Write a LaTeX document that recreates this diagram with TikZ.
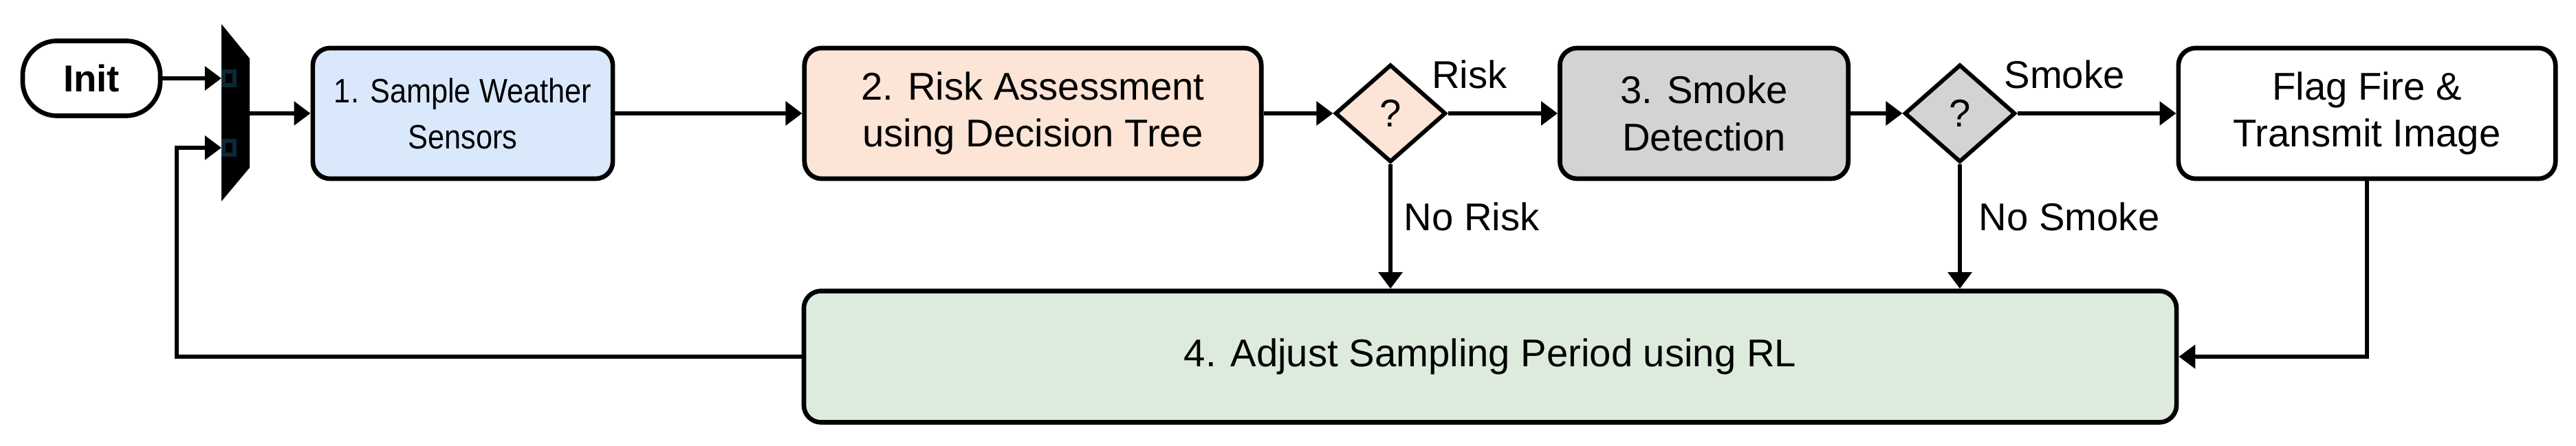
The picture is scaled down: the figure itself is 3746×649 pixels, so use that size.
\documentclass[tikz,border=0pt]{standalone}
\usepackage{fontspec}
\setmainfont{Liberation Sans}
\newfontfamily\narrowfont{Liberation Sans}[FakeStretch=0.88]
\usetikzlibrary{arrows.meta,shapes.geometric}
\definecolor{sensblue}{HTML}{DAE8FC}
\definecolor{riskpeach}{HTML}{FCE4D6}
\definecolor{smokegray}{HTML}{D3D3D3}
\definecolor{rlgreen}{HTML}{DDEBDD}
\definecolor{portnavy}{HTML}{0B2838}
\tikzset{
	stage/.style={draw, line width=1.9pt, rounded corners=0.25cm, align=center,
		minimum height=1.9cm, inner sep=0pt},
	check/.style={draw, diamond, line width=1.7pt, minimum width=1.61cm,
		minimum height=1.42cm, inner sep=0pt, aspect=1.13},
	flow/.style={line width=1.8pt, -{Triangle[length=0.24cm,width=0.34cm]}},
	tag/.style={inner sep=0pt}
}
\begin{document}
\begin{tikzpicture}[x=0.01cm, y=-0.01cm, font=\fontsize{16}{19.5}\selectfont]
	\useasboundingbox (0,0) rectangle (3746,649);
	% start
	\node[draw, line width=1.9pt, rounded corners=0.5cm, minimum width=2cm,
		minimum height=1.09cm, font=\fontsize{15.5}{18.5}\selectfont\bfseries] (init) at (133,114) {Init};
	% mux
	\fill (322,35) -- (363,85) -- (363,244) -- (322,293) -- cycle;
	\coordinate (muxinA) at (322,114);
	\coordinate (muxinB) at (322,215);
	\coordinate (muxout) at (363,165);
	\draw[portnavy, line width=1.5pt] (325,104) rectangle (341,124);
	\draw[portnavy, line width=1.5pt] (325,205) rectangle (341,225);
	% stages
	\node[stage, fill=sensblue, minimum width=4.36cm, font=\narrowfont\fontsize{14}{19}\selectfont] (sample) at (673,165) {1. Sample Weather\\Sensors};
	\node[stage, fill=riskpeach, minimum width=6.64cm] (risk) at (1502,165) {2. Risk Assessment\\using Decision Tree};
	\node[check, fill=riskpeach] (qrisk) at (2022,165) {?};
	\node[stage, fill=smokegray, minimum width=4.19cm] (smoke) at (2478,165) {3. Smoke\\Detection};
	\node[check, fill=smokegray] (qsmoke) at (2850,165) {?};
	\node[stage, fill=white, minimum width=5.48cm] (flag) at (3442,165) {Flag Fire \&\\Transmit Image};
	\node[stage, fill=rlgreen, minimum width=19.95cm, minimum height=1.91cm] (adjust) at (2167,519) {4. Adjust Sampling Period using RL};
	% connectors
	\draw[flow] (init) -- (muxinA);
	\draw[flow] (muxout) -- (sample);
	\draw[flow] (sample) -- (risk);
	\draw[flow] (risk) -- (qrisk);
	\draw[flow] (qrisk) -- (smoke);
	\draw[flow] (smoke) -- (qsmoke);
	\draw[flow] (qsmoke) -- (flag);
	\draw[flow] (qrisk) -- (qrisk |- adjust.north);
	\draw[flow] (qsmoke) -- (qsmoke |- adjust.north);
	\draw[flow] (flag) |- (adjust);
	\draw[flow] (adjust) -| (257,215) -- (muxinB);
	% labels
	\node[tag] (lrisk) at (2137,108) {Risk};
	\node[tag, anchor=west] (lnorisk) at (2041,315) {No Risk};
	\node[tag] (lsmoke) at (3002,108) {Smoke};
	\node[tag, anchor=west] (lnosmoke) at (2877,315) {No Smoke};
\end{tikzpicture}
\end{document}
